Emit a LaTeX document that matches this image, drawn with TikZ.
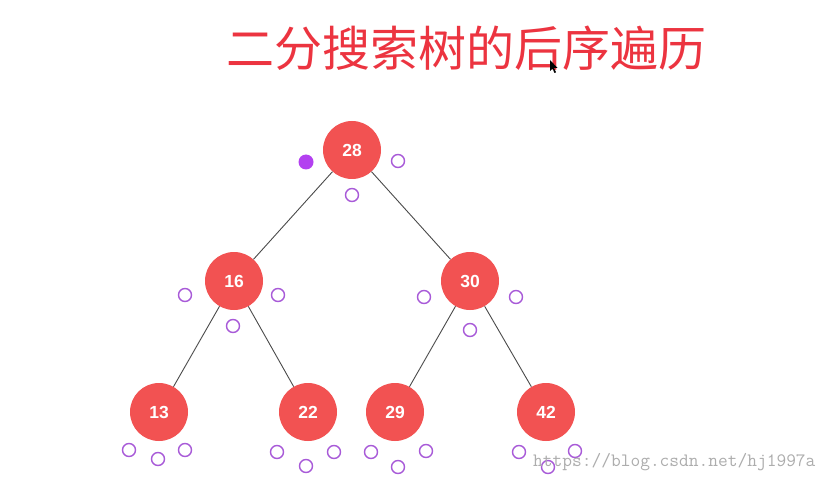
\documentclass[tikz,border=0pt]{standalone}
\usepackage{fontspec}
\setmainfont{Liberation Sans}
\setmonofont{Latin Modern Mono}
\newfontfamily\cjk{Noto Sans CJK SC}
\definecolor{nodered}{HTML}{F25252}
\definecolor{titlered}{HTML}{EC3440}
\definecolor{ringpurple}{HTML}{A85AD8}
\definecolor{dotpurple}{HTML}{B340F0}
\definecolor{edgegray}{HTML}{4A4A4A}
\tikzset{
  treenode/.style={circle, fill=nodered, draw=none, minimum size=58pt, inner sep=0pt,
    text=white, font=\bfseries\fontsize{17.5}{17.5}\selectfont},
  ring/.style={circle, draw=ringpurple, line width=1.4pt, minimum size=13pt, inner sep=0pt},
  dot/.style={circle, fill=dotpurple, draw=none, minimum size=15pt, inner sep=0pt},
  edge/.style={draw=edgegray, line width=0.9pt}
}
\begin{document}
\begin{tikzpicture}[x=1pt,y=-1pt]
\useasboundingbox (0,0) rectangle (834,478);
\fill[white] (0,0) rectangle (834,478);
% title
\node[text=titlered, font=\cjk\fontsize{48}{48}\selectfont, inner sep=0pt] (title) at (466,48) {二分搜索树的后序遍历};
% cursor
\fill[black] (550,60) -- (550,71) -- (552.5,68.5) -- (554.5,73) -- (556,72.3) -- (554,68) -- (557.5,68) -- cycle;
% tree nodes
\node[treenode] (n28) at (352,150) {28};
\node[treenode] (n16) at (234,281) {16};
\node[treenode] (n30) at (470,281) {30};
\node[treenode] (n13) at (159,412) {13};
\node[treenode] (n22) at (308,412) {22};
\node[treenode] (n29) at (395,412) {29};
\node[treenode] (n42) at (546,412) {42};
% edges
\path[edge] (n28) -- (n16);
\path[edge] (n28) -- (n30);
\path[edge] (n16) -- (n13);
\path[edge] (n16) -- (n22);
\path[edge] (n30) -- (n29);
\path[edge] (n30) -- (n42);
% rings
\node[dot] (a1) at (306,162) {};
\node[ring] (a2) at (398,161) {};
\node[ring] (a3) at (352,195) {};
\node[ring] (b1) at (185,295) {};
\node[ring] (b2) at (278,295) {};
\node[ring] (b3) at (233,326) {};
\node[ring] (c1) at (424,297) {};
\node[ring] (c2) at (516,297) {};
\node[ring] (c3) at (470,330) {};
\node[ring] (d1) at (129,450) {};
\node[ring] (d2) at (158,459) {};
\node[ring] (d3) at (185,450) {};
\node[ring] (e1) at (277,452) {};
\node[ring] (e2) at (306,466) {};
\node[ring] (e3) at (334,452) {};
\node[ring] (f1) at (371,452) {};
\node[ring] (f2) at (398,467) {};
\node[ring] (f3) at (426,451) {};
\node[ring] (g1) at (519,452) {};
\node[ring] (g2) at (548,467) {};
\node[ring] (g3) at (575,451) {};
% watermark
\node[text=black!32, font=\ttfamily\fontsize{18.9}{18.9}\selectfont, anchor=base west, inner sep=0pt] (wm) at (533,466) {https://blog.csdn.net/hj1997a};
\end{tikzpicture}
\end{document}
